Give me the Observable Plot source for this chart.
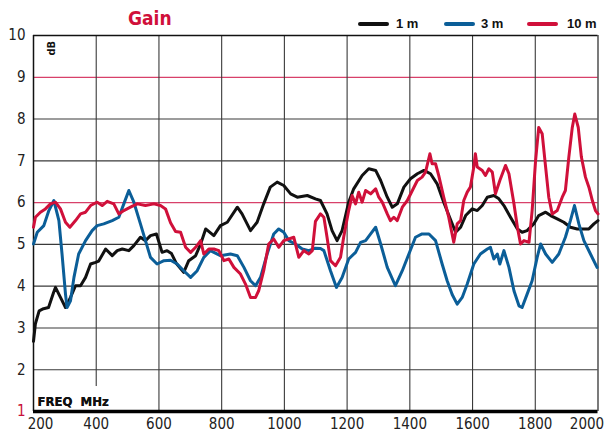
<!DOCTYPE html>
<html>
<head>
<meta charset="utf-8">
<script src="https://cdn.jsdelivr.net/npm/d3@7"></script>
<script src="https://cdn.jsdelivr.net/npm/@observablehq/plot@0.6"></script>
<style>
  html, body { margin: 0; padding: 0; background: #fff; overflow: hidden; }
  #wrap { width: 608px; height: 435px; position: relative; }
  #head { position: relative; width: 608px; height: 27px; font-family: "Liberation Sans", Arial, sans-serif; }
  #head .title { position: absolute; left: 128px; top: 8px; line-height: 20px; font-size: 19px; font-weight: bold; color: #d0103a; font-family: "Liberation Sans Narrow", "DejaVu Sans Condensed", sans-serif; }
  #head .sw { position: absolute; top: 22px; height: 4px; width: 31px; border-radius: 2px; }
  #head .lab { position: absolute; top: 17px; line-height: 13px; font-size: 13px; font-weight: bold; color: #111; }
  svg { display: block; }
</style>
</head>
<body>
<div id="wrap">
  <div id="head"></div>
  <div id="chart"></div>
</div>
<script>
// ---- data ----
const seriesNames = ["1 m", "3 m", "10 m"];
const seriesColors = ["#111111", "#0b5e98", "#d0103a"];

const freq1m = [200,206,218,232,248,264,270,286,302,318,334,350,366,382,398,408,430,451,467,483,504,520,541,557,573,592,610,626,640,655,679,695,717,733,749,775,796,818,850,865,892,913,934,955,977,998,1020,1041,1073,1099,1115,1136,1152,1168,1184,1205,1221,1248,1269,1291,1307,1328,1344,1360,1381,1402,1424,1445,1466,1487,1508,1530,1546,1562,1578,1599,1615,1631,1647,1668,1684,1700,1721,1743,1758,1774,1795,1811,1833,1849,1870,1891,1912,1934,1955,1971,1987,2000];
const gain1m = [2.68,3.10,3.41,3.46,3.49,3.85,3.97,3.73,3.49,3.73,4.01,4.01,4.21,4.53,4.57,4.60,4.89,4.73,4.85,4.89,4.85,4.97,5.17,5.09,5.21,5.25,4.81,4.85,4.78,4.55,4.33,4.61,4.73,5.01,5.37,5.21,5.45,5.53,5.89,5.73,5.33,5.53,5.97,6.37,6.49,6.41,6.21,6.13,6.17,6.09,6.05,5.73,5.33,5.09,5.33,6.01,6.33,6.65,6.81,6.77,6.53,6.13,5.89,5.97,6.37,6.57,6.69,6.77,6.69,6.45,6.01,5.59,5.29,5.41,5.69,5.85,5.81,5.93,6.13,6.17,6.09,5.93,5.65,5.37,5.29,5.33,5.49,5.69,5.77,5.69,5.61,5.53,5.41,5.37,5.37,5.37,5.49,5.57];

const freq3m = [200,212,233,249,265,281,291,302,307,318,329,344,366,387,403,424,451,472,488,504,520,541,557,573,594,616,637,658,679,701,722,743,764,796,828,850,871,892,908,924,945,966,982,998,1014,1035,1057,1078,1099,1115,1126,1147,1166,1184,1205,1227,1243,1259,1275,1291,1307,1328,1354,1376,1397,1418,1439,1461,1482,1503,1519,1535,1551,1567,1583,1604,1625,1647,1657,1668,1679,1687,1700,1716,1732,1748,1758,1774,1790,1806,1817,1833,1854,1875,1896,1912,1925,1939,1955,1976,1997];
const gain3m = [5.01,5.29,5.45,5.81,6.05,5.57,4.77,3.81,3.49,3.65,4.21,4.77,5.09,5.33,5.45,5.49,5.57,5.65,5.97,6.29,6.01,5.49,5.09,4.69,4.53,4.61,4.62,4.53,4.37,4.21,4.37,4.69,4.85,4.73,4.77,4.73,4.45,4.13,4.01,4.21,4.77,5.25,5.37,5.29,5.09,5.01,4.89,4.85,4.91,4.90,4.85,4.37,3.97,4.21,4.65,4.81,5.05,5.09,5.25,5.41,5.01,4.45,4.01,4.37,4.77,5.17,5.25,5.25,5.09,4.53,4.13,3.80,3.57,3.73,4.05,4.53,4.77,4.89,4.93,4.65,4.77,4.53,4.85,4.45,3.89,3.53,3.49,3.81,4.13,4.69,5.01,4.77,4.57,4.77,5.17,5.57,5.93,5.49,5.09,4.77,4.45];

const freq10m = [200,206,222,238,254,270,286,302,316,334,350,366,382,403,419,435,456,472,488,509,531,557,584,605,621,637,653,669,685,701,717,733,743,759,775,791,807,823,839,860,876,892,908,918,934,950,966,982,998,1014,1030,1046,1062,1078,1089,1099,1115,1126,1136,1147,1163,1179,1189,1205,1216,1227,1237,1248,1259,1275,1291,1301,1312,1328,1338,1349,1360,1376,1392,1408,1424,1439,1450,1464,1471,1482,1492,1508,1524,1540,1551,1562,1572,1583,1593,1604,1609,1615,1631,1641,1652,1663,1673,1687,1705,1716,1732,1743,1753,1764,1780,1790,1801,1811,1822,1833,1843,1854,1870,1886,1896,1907,1918,1926,1937,1947,1960,1971,1982,1992,2000];
const gain10m = [5.41,5.65,5.77,5.85,5.97,6.01,5.85,5.53,5.41,5.57,5.73,5.77,5.93,6.01,5.93,6.03,5.97,5.73,5.81,5.89,5.97,5.93,5.97,5.93,5.85,5.52,5.31,5.29,4.93,4.81,4.93,5.09,4.77,4.89,4.89,4.85,4.61,4.65,4.45,4.29,4.05,3.73,3.73,3.89,4.37,5.01,5.13,4.93,5.09,5.13,5.17,4.69,4.85,4.77,4.85,5.55,5.73,5.65,5.17,4.61,4.49,4.69,5.17,5.81,6.17,5.97,6.25,6.01,6.29,6.21,6.33,6.13,6.01,5.73,5.57,5.65,5.57,5.89,6.05,6.29,6.53,6.61,6.73,7.17,6.93,6.93,6.65,6.13,5.65,5.05,5.49,5.57,6.05,6.25,6.37,6.85,7.17,6.85,6.77,6.65,6.81,6.73,6.21,6.53,6.89,6.69,5.97,5.41,5.01,5.09,5.05,5.81,7.01,7.80,7.65,6.85,6.13,5.73,5.81,6.13,6.29,7.09,7.80,8.12,7.80,7.09,6.61,6.37,6.05,5.81,5.73];

const xTicks = [200,400,600,800,1000,1200,1400,1600,1800,2000];
const yTicks = [1,2,3,4,5,6,7,8,9,10];
const redGridY = [6,9];
const darkGridY = [2,3,4,5,7,8];
const xLabel = "FREQ\u00a0\u00a0MHz";
const yLabel = "dB";
const title = "Gain";

// ---- build table ----
const freqs = [freq1m, freq3m, freq10m];
const gains = [gain1m, gain3m, gain10m];
const rows = [];
seriesNames.forEach((s, i) => freqs[i].forEach((f, j) => rows.push({series: s, freq: f, gain: gains[i][j]})));

// ---- header (title + legend) ----
const head = document.getElementById("head");
const t = document.createElement("div"); t.className = "title"; t.textContent = title; head.appendChild(t);
const swLeft = [358, 444, 527], labLeft = [396, 481, 567];
seriesNames.forEach((s, i) => {
  const sw = document.createElement("div"); sw.className = "sw";
  sw.style.left = swLeft[i] + "px"; sw.style.background = seriesColors[i]; head.appendChild(sw);
  const lb = document.createElement("div"); lb.className = "lab";
  lb.style.left = labLeft[i] + "px"; lb.textContent = s; head.appendChild(lb);
});

const narrow = "'Liberation Sans Narrow', 'DejaVu Sans Condensed', sans-serif";
const str = d => String(d);

const chart = Plot.plot({
  width: 608,
  height: 408,
  marginTop: 8,
  marginLeft: 33,
  marginRight: 10.5,
  marginBottom: 24,
  x: {domain: [200, 2000], axis: null},
  y: {domain: [1, 10], axis: null},
  color: {domain: seriesNames, range: seriesColors},
  style: {background: "white", fontFamily: narrow, overflow: "visible"},
  marks: [
    Plot.ruleY(darkGridY, {stroke: "#3a3a3a", strokeWidth: 1.1}),
    Plot.ruleY(redGridY, {stroke: "#d8406a", strokeWidth: 1.3}),
    Plot.ruleX(xTicks.slice(1, -1), {stroke: "#3a3a3a", strokeWidth: 1.1}),
    Plot.text([xLabel], {frameAnchor: "bottom-left", dx: 4, dy: -10, textAnchor: "start", lineAnchor: "middle",
      fontSize: 13, fontWeight: "bold", fill: "#111", stroke: "white", strokeWidth: 22, strokeLinejoin: "round", paintOrder: "stroke"}),
    Plot.text([xLabel], {frameAnchor: "bottom-left", dx: 4, dy: -10, textAnchor: "start", lineAnchor: "middle",
      fontSize: 13, fontWeight: "bold", fill: "#111"}),
    Plot.ruleX([200], {stroke: "#111", strokeWidth: 1.5}),
    Plot.ruleX([2000], {stroke: "#222", strokeWidth: 1.2}),
    Plot.ruleY([10], {stroke: "#111", strokeWidth: 1.5}),
    Plot.ruleY([1], {stroke: "#000", strokeWidth: 3.5}),
    Plot.text([yLabel], {frameAnchor: "top-left", dx: 14, dy: 20, rotate: -90, fontSize: 11, fontWeight: "bold", fill: "#111"}),
    Plot.text(yTicks, {y: d => d, text: str, frameAnchor: "left", dx: -8, textAnchor: "end", lineAnchor: "middle",
      fontSize: 15, fill: d => d === 1 ? "#c8103a" : "#222"}),
    Plot.text(xTicks.slice(1, -1), {x: d => d, text: str, frameAnchor: "bottom", dy: 13, lineAnchor: "middle", fontSize: 15, fill: "#222"}),
    Plot.text(xTicks.slice(0, 1), {x: d => d, text: str, frameAnchor: "bottom", dy: 13, dx: 7, lineAnchor: "middle", fontSize: 15, fill: "#222"}),
    Plot.text(xTicks.slice(-1), {x: d => d, text: str, frameAnchor: "bottom", dy: 13, dx: -11, lineAnchor: "middle", fontSize: 15, fill: "#222"}),
    Plot.line(rows, {x: "freq", y: "gain", z: "series", stroke: "series", strokeWidth: 3, strokeLinejoin: "round", strokeLinecap: "round"})
  ]
});
document.getElementById("chart").appendChild(chart);
</script>
</body>
</html>
